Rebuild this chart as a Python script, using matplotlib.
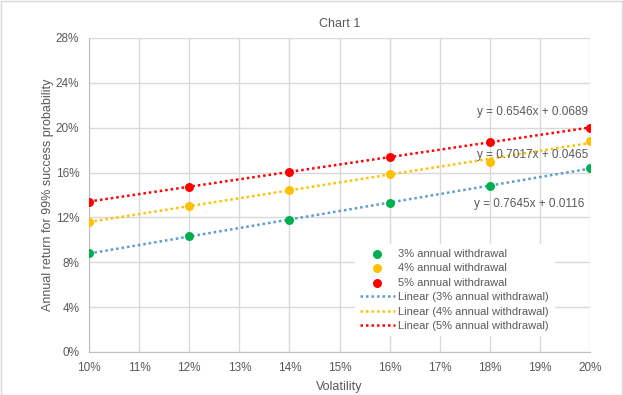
import numpy as np
import matplotlib.pyplot as plt
from matplotlib.ticker import FuncFormatter

plt.rcParams['font.family'] = ['Liberation Sans', 'DejaVu Sans']

# volatility (%) and annual return for 99% success (%)
vol = [10, 12, 14, 16, 18, 20]
w3 = [8.8, 10.3, 11.8, 13.3, 14.8, 16.4]
w4 = [11.6, 13.0, 14.45, 15.9, 16.95, 18.8]
w5 = [13.4, 14.75, 16.05, 17.4, 18.7, 20.0]
names = ['3% annual withdrawal', '4% annual withdrawal', '5% annual withdrawal']
eqs = ['y = 0.7645x + 0.0116', 'y = 0.7017x + 0.0465', 'y = 0.6546x + 0.0689']

dot_cols = ['#00b050', '#ffc000', '#ff0000']
line_cols = ['#5b9bd5', '#ffc000', '#ff0000']
grey = '#595959'

fig = plt.figure(figsize=(6.23, 3.95), dpi=100)
ax = fig.add_axes([0.1429, 0.1089, 0.8041, 0.795])

x = np.array(vol, dtype=float)
dots, lines = [], []
for ys, dc, lc, nm in zip([w3, w4, w5], dot_cols, line_cols, names):
    ys = np.array(ys, dtype=float)
    m, b = np.polyfit(x, ys, 1)
    ln, = ax.plot(x, m * x + b, color=lc, lw=1.8, ls=(0, (1, 1.2)), zorder=2,
                  label='Linear (' + nm + ')')
    sc = ax.scatter(x, ys, s=42, color=dc, zorder=3, label=nm, linewidths=0)
    dots.append(sc)
    lines.append(ln)

# trendline equations
ax.text(18.86, 21.4, eqs[2], fontsize=8.5, color=grey, ha='center', va='center')
ax.text(18.86, 17.57, eqs[1], fontsize=8.5, color=grey, ha='center', va='center')
ax.text(18.78, 13.2, eqs[0], fontsize=8.5, color=grey, ha='center', va='center')

ax.set_xlim(10, 20)
ax.set_ylim(0, 28)
ax.set_xticks(np.arange(10, 21, 1))
ax.set_yticks(np.arange(0, 29, 4))
ax.xaxis.set_major_formatter(FuncFormatter(lambda v, p: '%d%%' % v))
ax.yaxis.set_major_formatter(FuncFormatter(lambda v, p: '%d%%' % v))
ax.grid(True, color='#d9d9d9', lw=1)
ax.set_axisbelow(True)
for s in ['top', 'right']:
    ax.spines[s].set_visible(False)
for s in ['left', 'bottom']:
    ax.spines[s].set_color('#bfbfbf')
ax.tick_params(length=0, labelsize=8.5, labelcolor=grey, pad=7)

ax.set_xlabel('Volatility', fontsize=9, color=grey, labelpad=5)
ax.set_ylabel('Annual return for 99% success probability', fontsize=9, color=grey, labelpad=1)
ax.set_title('Chart 1', fontsize=9, color=grey, pad=8)

leg = ax.legend(handles=dots + lines, loc='lower left', bbox_to_anchor=(0.52, 0.035, 0.46, 0.35),
                fontsize=8, frameon=True, facecolor='white', edgecolor='white', framealpha=1,
                fancybox=False, handlelength=3.2, handletextpad=0.3, labelspacing=0.4,
                borderpad=0.4, labelcolor=grey)
leg.set_zorder(5)

fig.patches.append(plt.Rectangle((0.001, 0.001), 0.997, 0.997, transform=fig.transFigure,
                                 fill=False, edgecolor='#d9d9d9', lw=1))
fig.savefig('out.png', dpi=100)
